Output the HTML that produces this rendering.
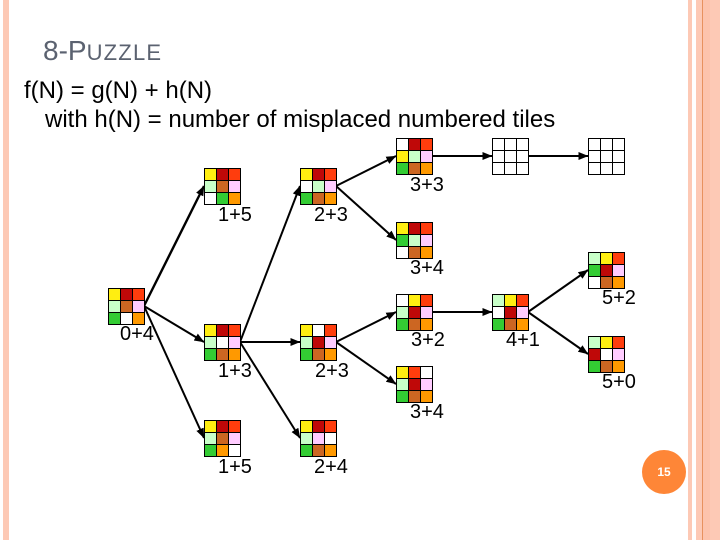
<!DOCTYPE html>
<html><head><meta charset="utf-8"><style>
html,body{margin:0;padding:0;background:#fff}
#p{position:relative;width:720px;height:540px;overflow:hidden;background:#fff;font-family:"Liberation Sans",sans-serif}
.s{position:absolute;top:0;height:540px}
.g{position:absolute;width:36px;height:36px;padding:1px 0 0 1px;background:#000;display:grid;grid-template-columns:repeat(3,11px);grid-auto-rows:11px;gap:1px;box-sizing:content-box;margin:0}
.g i{display:block}
.y{background:#ffee11}.d{background:#bf0808}.r{background:#ff3d0d}.l{background:#c8ffc8}.b{background:#cc6622}.p{background:#ffccff}.n{background:#33cc33}.o{background:#ff9900}.w{background:#fff}
svg{position:absolute;left:0;top:0}
.t{position:absolute;white-space:pre;line-height:1}
</style></head><body><div id="p">
<div class="s" style="left:3px;width:6px;background:#fdc9b5"></div>
<div class="s" style="left:688px;width:4px;background:#fdc9b5"></div>
<div class="s" style="left:696px;width:24px;background:#fdc9b5"></div>
<div class="s" style="left:702px;width:1px;background:#e8915e"></div>
<div class="s" style="left:703px;width:7px;background:#fdc3ac"></div>

<div class="t" style="left:43px;top:37px;font-size:28px;color:#5b6270">8-P<span style="font-size:22px;letter-spacing:1.2px">UZZLE</span></div>
<div class="t" style="left:24px;top:79px;font-size:24px;color:#000">f(N) = g(N) + h(N)</div>
<div class="t" style="left:45px;top:108px;font-size:24px;color:#000">with h(N) = number of misplaced numbered tiles</div>

<svg width="720" height="540" viewBox="0 0 720 540">
<defs><marker id="a" markerUnits="userSpaceOnUse" markerWidth="10" markerHeight="10" refX="9.6" refY="5" orient="auto"><path d="M0 1L10 5L0 9z" fill="#000"/></marker></defs>
<g stroke="#000" stroke-width="2" fill="none">
<path d="M144 306L204 186" stroke-width="2.4" marker-end="url(#a)"/>
<path d="M144 306L204 342" marker-end="url(#a)"/>
<path d="M144 306L204 438" marker-end="url(#a)"/>
<path d="M240 342L300 186" marker-end="url(#a)"/>
<path d="M240 342L300 342" marker-end="url(#a)"/>
<path d="M240 342L300 438" marker-end="url(#a)"/>
<path d="M336 186L396 156" marker-end="url(#a)"/>
<path d="M336 186L396 240" marker-end="url(#a)"/>
<path d="M432 156L492 156" marker-end="url(#a)"/>
<path d="M528 156L588 156" marker-end="url(#a)"/>
<path d="M336 342L396 312" marker-end="url(#a)"/>
<path d="M336 342L396 384" marker-end="url(#a)"/>
<path d="M432 312L492 312" marker-end="url(#a)"/>
<path d="M528 312L588 270" marker-end="url(#a)"/>
<path d="M528 312L588 354" marker-end="url(#a)"/>
</g>
<g font-family="Liberation Sans, sans-serif" font-size="20" fill="#000">
<text x="120" y="340">0+4</text>
<text x="218" y="221">1+5</text>
<text x="314" y="221">2+3</text>
<text x="410" y="191">3+3</text>
<text x="410" y="274">3+4</text>
<text x="602" y="304">5+2</text>
<text x="411" y="346">3+2</text>
<text x="506" y="346">4+1</text>
<text x="602" y="388">5+0</text>
<text x="218" y="377">1+3</text>
<text x="315" y="377">2+3</text>
<text x="410" y="418">3+4</text>
<text x="218" y="473">1+5</text>
<text x="314" y="473">2+4</text>
</g>
<circle cx="664" cy="472" r="22" fill="#fe8637"/>
<text x="664" y="476" text-anchor="middle" font-family="Liberation Sans, sans-serif" font-size="12" font-weight="bold" fill="#fff">15</text>
</svg>

<div class="g" style="left:108px;top:288px"><i class="y"></i><i class="d"></i><i class="r"></i><i class="l"></i><i class="b"></i><i class="p"></i><i class="n"></i><i class="w"></i><i class="o"></i></div>
<div class="g" style="left:204px;top:168px"><i class="y"></i><i class="d"></i><i class="r"></i><i class="l"></i><i class="b"></i><i class="p"></i><i class="w"></i><i class="n"></i><i class="o"></i></div>
<div class="g" style="left:300px;top:168px"><i class="y"></i><i class="d"></i><i class="r"></i><i class="w"></i><i class="l"></i><i class="p"></i><i class="n"></i><i class="b"></i><i class="o"></i></div>
<div class="g" style="left:396px;top:138px"><i class="w"></i><i class="d"></i><i class="r"></i><i class="y"></i><i class="l"></i><i class="p"></i><i class="n"></i><i class="b"></i><i class="o"></i></div>
<div class="g" style="left:492px;top:138px"><i class="w"></i><i class="w"></i><i class="w"></i><i class="w"></i><i class="w"></i><i class="w"></i><i class="w"></i><i class="w"></i><i class="w"></i></div>
<div class="g" style="left:588px;top:138px"><i class="w"></i><i class="w"></i><i class="w"></i><i class="w"></i><i class="w"></i><i class="w"></i><i class="w"></i><i class="w"></i><i class="w"></i></div>
<div class="g" style="left:396px;top:222px"><i class="y"></i><i class="d"></i><i class="r"></i><i class="n"></i><i class="l"></i><i class="p"></i><i class="w"></i><i class="b"></i><i class="o"></i></div>
<div class="g" style="left:588px;top:252px"><i class="l"></i><i class="y"></i><i class="r"></i><i class="n"></i><i class="d"></i><i class="p"></i><i class="w"></i><i class="b"></i><i class="o"></i></div>
<div class="g" style="left:204px;top:324px"><i class="y"></i><i class="d"></i><i class="r"></i><i class="l"></i><i class="w"></i><i class="p"></i><i class="n"></i><i class="b"></i><i class="o"></i></div>
<div class="g" style="left:300px;top:324px"><i class="y"></i><i class="w"></i><i class="r"></i><i class="l"></i><i class="d"></i><i class="p"></i><i class="n"></i><i class="b"></i><i class="o"></i></div>
<div class="g" style="left:396px;top:294px"><i class="w"></i><i class="y"></i><i class="r"></i><i class="l"></i><i class="d"></i><i class="p"></i><i class="n"></i><i class="b"></i><i class="o"></i></div>
<div class="g" style="left:492px;top:294px"><i class="l"></i><i class="y"></i><i class="r"></i><i class="w"></i><i class="d"></i><i class="p"></i><i class="n"></i><i class="b"></i><i class="o"></i></div>
<div class="g" style="left:588px;top:336px"><i class="l"></i><i class="y"></i><i class="r"></i><i class="d"></i><i class="w"></i><i class="p"></i><i class="n"></i><i class="b"></i><i class="o"></i></div>
<div class="g" style="left:396px;top:366px"><i class="y"></i><i class="r"></i><i class="w"></i><i class="l"></i><i class="d"></i><i class="p"></i><i class="n"></i><i class="b"></i><i class="o"></i></div>
<div class="g" style="left:204px;top:420px"><i class="y"></i><i class="d"></i><i class="r"></i><i class="l"></i><i class="b"></i><i class="p"></i><i class="n"></i><i class="o"></i><i class="w"></i></div>
<div class="g" style="left:300px;top:420px"><i class="y"></i><i class="d"></i><i class="r"></i><i class="l"></i><i class="p"></i><i class="w"></i><i class="n"></i><i class="b"></i><i class="o"></i></div>
</div></body></html>
